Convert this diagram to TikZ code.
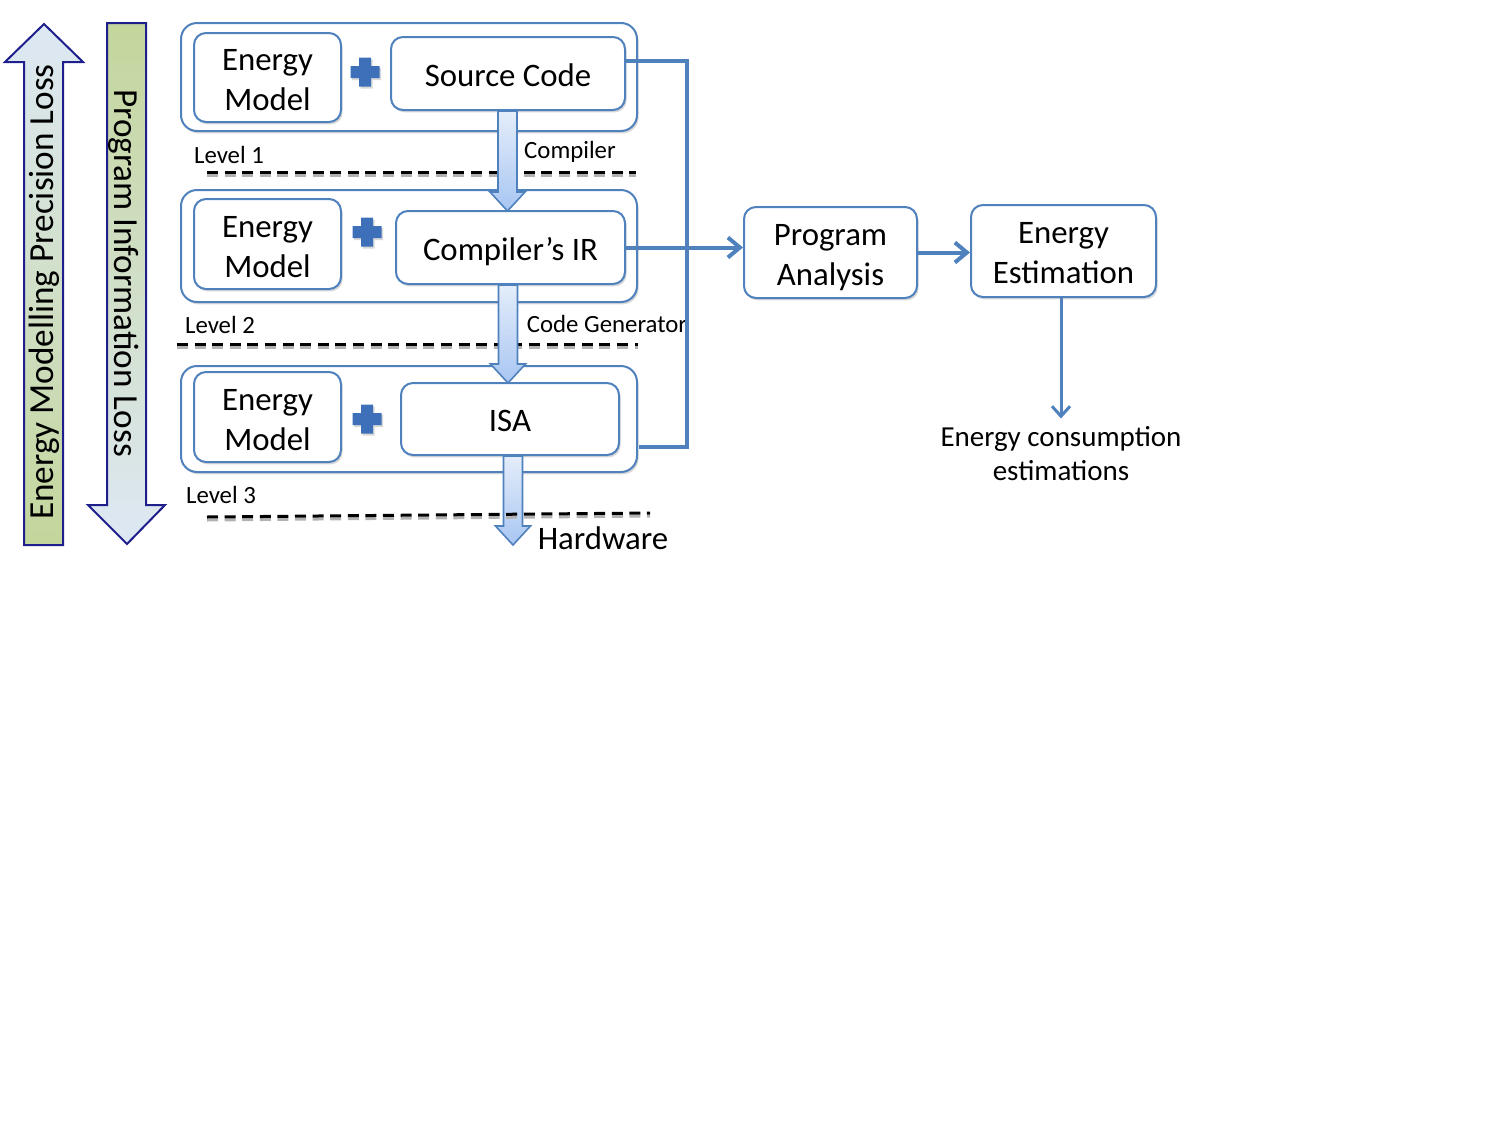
\documentclass[tikz,border=0pt]{standalone}
\usepackage{fontspec}
\setmainfont{Carlito}
\usetikzlibrary{arrows.meta,calc,shadows}
\definecolor{bcol}{RGB}{79,129,189}
\definecolor{navyc}{RGB}{31,31,140}
\definecolor{greenc}{RGB}{195,214,155}
\definecolor{lblue}{RGB}{222,232,245}
\definecolor{plusc}{RGB}{62,112,185}
\definecolor{arrtop}{RGB}{228,237,250}
\definecolor{arrbot}{RGB}{168,198,242}
\newcommand\blockarr[2]{\path[barrow] let \p1=#1, \p2=#2 in
  (\x1-4.75pt,\y1) -- (\x1+4.75pt,\y1) -- (\x1+4.75pt,\y2+9.5pt) -- (\x1+8.75pt,\y2+9.5pt)
  -- (\x1,\y2) -- (\x1-8.75pt,\y2+9.5pt) -- (\x1-4.75pt,\y2+9.5pt) -- cycle;}
\newcommand\dn[2][2pt]{\raisebox{-#1}[\height][\depth]{\begin{tabular}{@{}c@{}}#2\end{tabular}}}
\tikzset{
  pics/plusmark/.style={code={\fill[plusc,drop shadow={shadow xshift=0.8pt,shadow yshift=-1pt,opacity=0.3}]
    (-14.5,-6) -- (-6,-6) -- (-6,-14.5) -- (6,-14.5) -- (6,-6) -- (14.5,-6) -- (14.5,6) -- (6,6)
    -- (6,14.5) -- (-6,14.5) -- (-6,6) -- (-14.5,6) -- cycle;}}
}
\begin{document}
\begin{tikzpicture}[x=0.5pt,y=-0.5pt,
  box/.style={draw=bcol, line width=1pt, rounded corners=6pt, fill=white, align=center,
    inner sep=0pt, font=\fontsize{16.4}{20}\selectfont,
    drop shadow={shadow xshift=0.8pt,shadow yshift=-1.2pt,opacity=0.3}},
  cont/.style={draw=bcol, line width=1pt, rounded corners=8pt, fill=white, inner sep=0pt,
    drop shadow={shadow xshift=0.8pt,shadow yshift=-1.2pt,opacity=0.3}},
  lvl/.style={font=\fontsize{12.4}{15}\selectfont, inner sep=0pt},
  conn/.style={draw=bcol, line width=2pt},
  arrowend/.style={-{Straight Barb[length=6pt,width=10pt]}},
  barrow/.style={draw=bcol, line width=0.8pt, top color=arrtop, bottom color=arrbot},
  dsh/.style={line width=1.5pt, dash pattern=on 5.5pt off 3.3pt},
  bigarrow/.style={draw=navyc, line width=1pt},
  rottext/.style={font=\fontsize{17.6}{20}\selectfont, inner sep=0pt}
]
\useasboundingbox (0,0) rectangle (1500,1125);

% big side arrows
\path[bigarrow, top color=lblue, bottom color=greenc]
  (44,24) -- (83,62) -- (63,62) -- (63,545) -- (24,545) -- (24,62) -- (5,62) -- cycle;
\path[bigarrow, top color=greenc, bottom color=lblue]
  (107,23) -- (146,23) -- (146,505) -- (165,505) -- (127,544) -- (88,505) -- (107,505) -- cycle;
\node[rottext, rotate=90] (t1) at (44,292) {Energy Modelling Precision Loss};
\node[rottext, rotate=-90] (t2) at (124,273) {Program Information Loss};

% level containers
\node[cont, minimum width=228pt, minimum height=54pt] (l1) at (409,77) {};
\node[cont, minimum width=228pt, minimum height=56pt] (l2) at (409,246) {};
\node[cont, minimum width=228pt, minimum height=53pt] (l3) at (409,419) {};

% inner boxes
\node[box, minimum width=73.5pt, minimum height=44.5pt] (em1) at (267.5,77.5) {\dn[2.5pt]{Energy\\Model}};
\node[box, minimum width=73.5pt, minimum height=45pt] (em2) at (267.5,244) {\dn[2.5pt]{Energy\\Model}};
\node[box, minimum width=73.5pt, minimum height=45pt] (em3) at (267.5,417) {\dn[2.5pt]{Energy\\Model}};
\node[box, minimum width=117pt, minimum height=36.5pt] (src) at (508,73.5) {\dn[2.3pt]{Source Code}};
\node[box, minimum width=114.5pt, minimum height=36.5pt] (ir) at (510.5,247.5) {\dn[2.5pt]{Compiler’s IR}};
\node[box, minimum width=109pt, minimum height=36pt] (isa) at (510,419) {\dn[2pt]{ISA}};

\pic at (365,72) {plusmark};
\pic at (367,232) {plusmark};
\pic at (367,419) {plusmark};

% level labels
\node[lvl] (lv1) at (229,155) {Level 1};
\node[lvl] (lv2) at (220,325) {Level 2};
\node[lvl] (lv3) at (221,495) {Level 3};
\node[lvl] (cmp) at (570,152) {Compiler};
\node[lvl] (cg) at (607,324) {Code Generator};

% dashed separators
\draw[dsh, black!30] (207,175) -- (636,175);
\draw[dsh] (207,172) -- (636,172);
\draw[dsh, black!30] (177,347) -- (638,347);
\draw[dsh] (177,344) -- (638,344);

% block arrows
\coordinate (hwtip) at (513,545);
\node[font=\fontsize{16.4}{20}\selectfont, inner sep=0pt] (hw) at (603,538) {Hardware};
\blockarr{($(src.south)+(-0.5,0)$)}{($(ir.north)+(0,1)$)}
\blockarr{($(ir.south)+(-2.5,0)$)}{($(isa.north)+(0,1)$)}
\blockarr{($(isa.south)+(3,0)$)}{(hwtip)}
\draw[dsh, black!30] (207,520) -- (650,516);
\draw[dsh] (207,517) -- (650,513);

% right side boxes
\node[box, minimum width=86.5pt, minimum height=45.5pt] (pa) at (830.5,252.5) {\dn[2.5pt]{Program\\Analysis}};
\node[box, minimum width=92.5pt, minimum height=46pt] (ee) at (1063.5,251) {\dn[2.2pt]{Energy\\Estimation}};
\node[font=\fontsize{14.5}{17}\selectfont, align=center, inner sep=0pt] (ect) at (1061,454) {Energy consumption\\estimations};

% connectors
\draw[conn, black!25, shift={(1,2)}] ($(src.east)+(0,-13)$) -- ++(61,0) |- ($(l3.east)+(1,28)$);
\draw[conn] ($(src.east)+(0,-13)$) -- ++(61,0) |- ($(l3.east)+(1,28)$);
\draw[conn, arrowend] (ir.east) -- (ir.east -| pa.west);
\draw[conn, arrowend] (pa.east) -- (pa.east -| ee.west);
\draw[conn, line width=1.5pt, -{Straight Barb[length=5pt,width=9pt]}] (ee.south -| ect.north) -- ($(ect.north)+(0,-8)$);
\end{tikzpicture}
\end{document}
